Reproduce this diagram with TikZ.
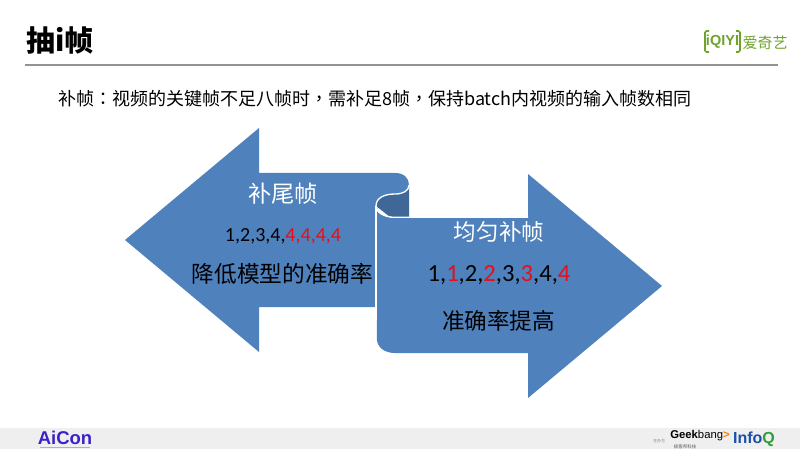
\documentclass[tikz,border=0pt]{standalone}
\usepackage{fontspec}
\setmainfont{Carlito}
\newfontfamily\cjk{Noto Sans CJK SC}
\newfontfamily\cjkp{Noto Sans CJK TC}
\newcommand{\fs}[1]{\fontsize{#1}{#1}\selectfont}
\definecolor{blueA}{HTML}{4F81BD}
\definecolor{blueD}{HTML}{3F6797}
\definecolor{redA}{HTML}{E3101A}
\definecolor{greenQ}{HTML}{6FA32C}
\definecolor{footbg}{HTML}{EFEFEF}
\tikzset{
  shapeedge/.style={line width=1.3pt,draw=white,line join=round},
  lbl/.style={inner sep=0pt,anchor=base},
  lbll/.style={inner sep=0pt,anchor=base west},
}
\begin{document}
\begin{tikzpicture}[x=1pt,y=-1pt]
\useasboundingbox (0,0) rectangle (800,449);
\fill[white] (0,0) rectangle (800,449);
\fill[footbg] (0,428) rectangle (800,449);
\draw[line width=1.2pt,draw=gray!85] (25,65) -- (778,65);
\node[lbll] (title) at (26,52) {\cjk\bfseries\fs{29}抽i帧};
\node[lbll] (sub) at (58,106) {\fs{18}\cjk 补帧{\cjkp ：}视频的关键帧不足八帧时{\cjkp ，}需补足8帧{\cjkp ，}保持batch内视频的输入帧数相同};
% left arrow
\fill[blueA] (125,240) -- (259,128) -- (259,173) -- (395,173)
  .. controls (404,173) and (409,178) .. (409,185)
  .. controls (409,191) and (403,194) .. (395,194)
  .. controls (384,194) and (376,198) .. (376,206)
  -- (376,307) -- (259,307) -- (259,352) -- cycle;
% fold
\fill[blueD] (409,185) .. controls (409,191) and (403,194) .. (395,194)
  .. controls (384,194) and (376,198) .. (376,206)
  -- (390,217) -- (409,217) -- cycle;
\draw[shapeedge] (409,185) .. controls (409,191) and (403,194) .. (395,194)
  .. controls (384,194) and (376,198) .. (376,206);
% right arrow
\fill[blueA] (376.8,206) .. controls (376.8,213) and (385,218) .. (395,218)
  -- (528,218) -- (528,174) -- (662,286) -- (528,398) -- (528,353)
  -- (395,353) .. controls (384,353) and (376.8,347) .. (376.8,338) -- cycle;
\draw[shapeedge] (376,206) .. controls (376,213) and (385,217.3) .. (395,217.3) -- (528,217.3);
\draw[shapeedge] (376,206) -- (376,320);
% texts
\node[lbl,white] (wei) at (283,203) {\cjk\fs{23.2}补尾帧};
\node[lbl] (seqa) at (283,241) {\fs{20}1,2,3,4,\textcolor{redA}{4,4,4,4}};
\node[lbl] (jiang) at (282.5,282) {\cjk\fs{22.7}降低模型的准确率};
\node[lbl,white] (jun) at (499,240) {\cjk\fs{22.6}均匀补帧};
\node[lbl] (seqb) at (499,281) {\fs{24.6}1,\textcolor{redA}{1},2,\textcolor{redA}{2},3,\textcolor{redA}{3},4,\textcolor{redA}{4}};
\node[lbl] (ti) at (498.5,329) {\cjk\fs{22.6}准确率提高};
% iQIYI logo
\draw[greenQ,line width=1.6pt,rounded corners=1.5pt] (709,31) -- (705,31) -- (705,52) -- (709,52);
\draw[greenQ,line width=1.6pt,rounded corners=1.5pt] (736,31) -- (740,31) -- (740,52) -- (736,52);
\node[inner sep=0pt,greenQ] (iq) at (722.5,42) {\fontspec{Liberation Sans}\bfseries\fs{14.5}iQIYI};
\node[inner sep=0pt,greenQ] (aqy) at (765,42.5) {\cjk\fs{15}爱奇艺};
% footer
\node[lbl] (aicon) at (65,444) {\fontspec{Liberation Sans}\bfseries\fs{18.5}\textcolor[HTML]{3A22C8}{AiCon}};
\fill[gray!60] (40,447) rectangle (90,448);
\node[inner sep=0pt,gray] (zb) at (659,440.5) {\cjk\fs{4}主办方};
\node[inner sep=0pt] (geek) at (700,436) {\fontspec{Liberation Sans}\fs{11.3}\textbf{Geek}bang\textcolor{orange}{\textbf{>}}};
\node[inner sep=0pt,gray!70!black] (jk) at (685,446.5) {\cjk\fs{4.5}极客邦科技};
\node[inner sep=0pt] (info) at (754,439) {\fontspec{Liberation Sans}\bfseries\fs{16}\textcolor[HTML]{1B4FA8}{Info}\textcolor[HTML]{2E9E3B}{Q}};
\end{tikzpicture}
\end{document}
